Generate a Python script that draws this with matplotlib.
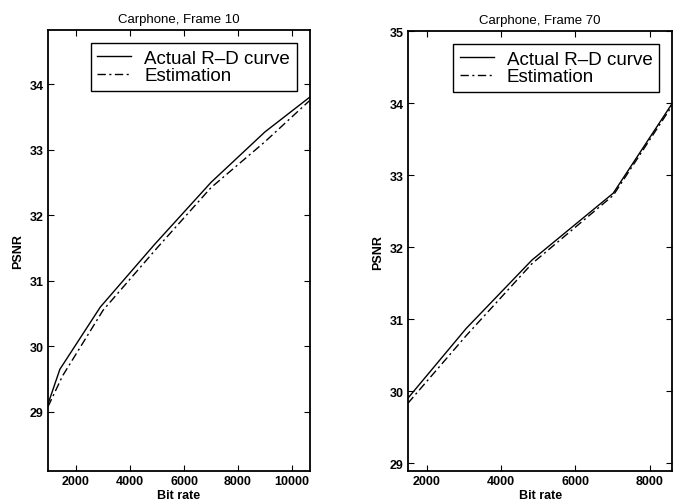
import matplotlib
matplotlib.use('Agg')
import matplotlib.pyplot as plt

plt.rc('font', family=['Liberation Sans', 'DejaVu Sans'])

# Carphone, Frame 10
rate10 = [960, 1400, 2900, 4900, 7000, 9000, 10660]
actual10 = [29.12, 29.65, 30.6, 31.55, 32.5, 33.27, 33.8]
est10_rate = [960, 1500, 3000, 5000, 7000, 9000, 10660]
est10 = [29.08, 29.55, 30.55, 31.5, 32.42, 33.12, 33.75]

# Carphone, Frame 70
rate70 = [1490, 3060, 4830, 7020, 8610]
actual70 = [29.9, 30.87, 31.82, 32.75, 34.0]
est70 = [29.83, 30.77, 31.77, 32.72, 33.97]

titles = ['Carphone, Frame 10', 'Carphone, Frame 70']
xticks = [[2000, 4000, 6000, 8000, 10000], [2000, 4000, 6000, 8000]]
yticks = [[29, 30, 31, 32, 33, 34], [29, 30, 31, 32, 33, 34, 35]]

fig = plt.figure(figsize=(6.73, 5.02), dpi=100)
ax1 = fig.add_axes([0.0713, 0.0598, 0.389, 0.878])
ax2 = fig.add_axes([0.606, 0.0598, 0.393, 0.876])

ax1.plot(rate10, actual10, '-', color='k', lw=1.0, label='Actual R\u2013D curve')
ax1.plot(est10_rate, est10, color='k', lw=1.0, dashes=(6, 2.5, 1.5, 2.5),
         label='Estimation')
ax1.set_xlim(960, 10660)
ax1.set_ylim(28.1, 34.82)

ax2.plot(rate70, actual70, '-', color='k', lw=1.0, label='Actual R\u2013D curve')
ax2.plot(rate70, est70, color='k', lw=1.0, dashes=(6, 2.5, 1.5, 2.5),
         label='Estimation')
ax2.set_xlim(1490, 8610)
ax2.set_ylim(28.89, 35.0)

for i, ax in enumerate([ax1, ax2]):
    ax.set_title(titles[i], fontsize=9.5, pad=6)
    ax.set_xticks(xticks[i])
    ax.set_yticks(yticks[i])
    ax.tick_params(direction='in', top=True, right=True, length=4,
                   labelsize=9, pad=3)
    for lbl in ax.get_xticklabels() + ax.get_yticklabels():
        lbl.set_fontweight('bold')
    ax.set_xlabel('Bit rate', fontsize=9, fontweight='bold', labelpad=1)
    ax.set_ylabel('PSNR', fontsize=9, fontweight='bold', labelpad=4)
    for sp in ax.spines.values():
        sp.set_linewidth(1.3)
    leg = ax.legend(loc='upper right', fontsize=13.5, fancybox=False,
                    framealpha=1, edgecolor='k', handlelength=1.8,
                    borderpad=0.35, labelspacing=0.0, handletextpad=0.7,
                    borderaxespad=0.7)
    leg.get_frame().set_linewidth(1.0)

fig.savefig('out.png', dpi=100)
